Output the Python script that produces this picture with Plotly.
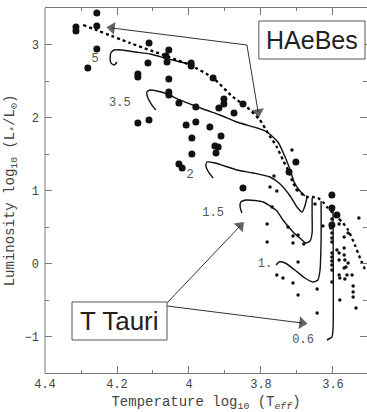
import plotly.graph_objects as go

# --- Herbig Ae/Be stars (large symbols): log Teff, log L/Lsun
haebe_logt = [4.314, 4.314, 4.256, 4.256, 4.256, 4.281, 4.111, 4.114, 4.142, 4.142,
              4.056, 4.064, 4.061, 4.056, 4.056, 4.056, 4.028, 4.142, 4.111, 4.008,
              4.028, 4.019, 3.994, 3.994, 3.933, 3.903, 3.903, 3.917, 3.981, 3.875,
              3.850, 3.981, 3.942, 3.992, 3.911, 3.928, 3.919, 3.925, 3.992, 3.850,
              3.703, 3.722, 3.603, 3.603, 3.589, 3.603]
haebe_logl = [3.240, 3.185, 3.432, 3.253, 2.938, 2.678, 3.021, 2.747, 2.596, 2.555,
              2.925, 2.842, 2.760, 2.527, 2.349, 2.308, 2.199, 1.925, 1.966, 1.897,
              1.363, 1.308, 2.747, 2.705, 2.541, 2.253, 2.185, 2.130, 2.144, 2.062,
              2.185, 1.938, 1.870, 1.719, 1.747, 1.610, 1.596, 1.514, 1.500, 1.034,
              1.390, 1.253, 0.938, 0.760, 0.664, 0.527]

# --- T Tauri stars (small symbols)
ttau_logt = [3.714, 3.764, 3.775, 3.756, 3.700, 3.769, 3.783, 3.783, 3.628, 3.583,
             3.528, 3.725, 3.697, 3.711, 3.711, 3.681, 3.606, 3.603, 3.603, 3.603,
             3.603, 3.603, 3.603, 3.603, 3.603, 3.603, 3.589, 3.583, 3.583, 3.569,
             3.569, 3.567, 3.564, 3.583, 3.561, 3.547, 3.544, 3.544, 3.544, 3.536,
             3.581, 3.756, 3.739, 3.711, 3.697, 3.644, 3.644, 3.697, 3.569, 3.558,
             3.581, 3.567, 3.569, 3.558, 3.650, 3.603]
ttau_logl = [1.555, 1.199, 1.048, 0.993, 1.007, 0.774, 0.541, 0.295, 0.514, 0.541,
             0.623, 0.500, 0.390, 0.377, 0.281, 0.267, 0.486, 0.418, 0.349, 0.295,
             0.144, 0.089, 0.034, -0.021, -0.089, -0.253, 0.185, 0.144, 0.048, 0.212,
             0.116, 0.048, -0.048, -0.158, -0.158, -0.158, -0.308, -0.390, -0.459, -0.610,
             -0.500, -0.158, -0.199, -0.267, -0.432, -0.349, -0.678, 0.021, 0.363, 0.418,
             -0.199, -0.212, -0.062, 0.007, 0.815, 0.610]

# --- Stellar birthline
birth_logt = [4.294, 4.164, 3.997, 3.933, 3.878, 3.839, 3.803, 3.781, 3.756, 3.739,
              3.722, 3.711, 3.697, 3.683, 3.669, 3.656, 3.642, 3.628, 3.617, 3.603,
              3.586, 3.572, 3.558, 3.539, 3.525, 3.508]
birth_logl = [3.267, 3.021, 2.719, 2.541, 2.281, 2.144, 1.966, 1.788, 1.596, 1.418,
              1.253, 1.103, 1.007, 0.938, 0.911, 0.911, 0.897, 0.842, 0.774, 0.705,
              0.623, 0.555, 0.459, 0.253, 0.075, -0.116]

# --- Pre-main-sequence tracks, keyed by mass label (Msun)
track_5_logt = [4.200, 4.208, 4.217, 4.219, 4.217, 4.208, 4.186, 4.150, 4.108, 4.067, 4.025, 3.997]
track_5_logl = [2.760, 2.719, 2.747, 2.815, 2.884, 2.925, 2.925, 2.897, 2.870, 2.815, 2.760, 2.733]

track_35_logt = [4.092, 4.103, 4.114, 4.117, 4.108, 4.089, 4.061, 4.025, 3.961, 3.914,
                 3.867, 3.811, 3.783, 3.753, 3.733, 3.719, 3.708, 3.694, 3.678]
track_35_logl = [2.103, 2.171, 2.267, 2.349, 2.377, 2.363, 2.322, 2.240, 2.116, 2.034,
                 1.938, 1.856, 1.801, 1.664, 1.459, 1.281, 1.116, 1.007, 0.925]

track_2_logt = [3.933, 3.944, 3.953, 3.950, 3.928, 3.867, 3.822, 3.775, 3.747, 3.719,
                3.700, 3.686, 3.678, 3.672]
track_2_logl = [1.171, 1.240, 1.336, 1.390, 1.377, 1.281, 1.240, 1.185, 1.089, 0.925,
                0.774, 0.705, 0.788, 0.911]

track_15_logt = [3.853, 3.858, 3.856, 3.839, 3.794, 3.756, 3.739, 3.711, 3.692, 3.675,
                 3.664, 3.658, 3.658, 3.658]
track_15_logl = [0.692, 0.774, 0.842, 0.870, 0.842, 0.719, 0.596, 0.432, 0.349, 0.281,
                 0.308, 0.418, 0.664, 0.897]

track_1_logt = [3.758, 3.750, 3.733, 3.706, 3.678, 3.656, 3.642, 3.636, 3.633, 3.633]
track_1_logl = [-0.021, 0.021, 0.007, -0.089, -0.199, -0.253, -0.226, -0.089, 0.322, 0.856]

track_06_logt = [3.617, 3.603, 3.600, 3.600]
track_06_logl = [-1.048, -1.007, -0.911, 0.733]

tracks = [
    (track_5_logt, track_5_logl),
    (track_35_logt, track_35_logl),
    (track_2_logt, track_2_logl),
    (track_15_logt, track_15_logl),
    (track_1_logt, track_1_logl),
    (track_06_logt, track_06_logl),
]

# Mass labels placed next to each track's zero-age end
mass_labels = ["5", "3.5", "2", "1.5", "1.", "0.6"]
mass_label_logt = [4.261, 4.192, 3.997, 3.933, 3.789, 3.683]
mass_label_logl = [2.801, 2.199, 1.212, 0.692, -0.007, -1.048]

# Axis ticks
x_tickvals = [4.4, 4.2, 4.0, 3.8, 3.6]
x_ticktext = ["4.4", "4.2", "4", "3.8", "3.6"]
y_tickvals = [-1, 0, 1, 2, 3]
y_ticktext = ["\u22121", "0", "1", "2", "3"]

MONO = "Liberation Mono, DejaVu Sans Mono, monospace"
INK = "#111111"
AXIS_GREY = "#7a7a7a"
TEXT_GREY = "#444444"

fig = go.Figure()

for tx, ty in tracks:
    fig.add_trace(go.Scatter(
        x=tx, y=ty, mode="lines",
        line=dict(color=INK, width=1.4, shape="spline", smoothing=0.6),
        hoverinfo="skip", showlegend=False))

fig.add_trace(go.Scatter(
    x=birth_logt, y=birth_logl, mode="lines",
    line=dict(color="#000000", width=2.3, dash="dot", shape="spline", smoothing=0.5),
    hoverinfo="skip", showlegend=False))

fig.add_trace(go.Scatter(
    x=haebe_logt, y=haebe_logl, mode="markers",
    marker=dict(color=INK, size=7), showlegend=False))

fig.add_trace(go.Scatter(
    x=ttau_logt, y=ttau_logl, mode="markers",
    marker=dict(color=INK, size=3.5), showlegend=False))

fig.add_trace(go.Scatter(
    x=mass_label_logt, y=mass_label_logl, mode="text",
    text=mass_labels, textposition="middle center",
    textfont=dict(family=MONO, size=12, color="#555555"),
    hoverinfo="skip", showlegend=False))

# Labelled boxes
box_line = dict(color="#555555", width=1)
fig.add_shape(type="rect", xref="x", yref="y", x0=3.806, x1=3.511, y0=3.322, y1=2.801,
              line=box_line, fillcolor="white", layer="above")
fig.add_annotation(x=3.6585, y=3.06, xref="x", yref="y", text="HAeBes", showarrow=False,
                   font=dict(family="Liberation Sans, Arial, sans-serif", size=25, color="#222222"))

fig.add_shape(type="rect", xref="x", yref="y", x0=4.325, x1=4.061, y0=-0.527, y1=-1.048,
              line=box_line, fillcolor="white", layer="above")
fig.add_annotation(x=4.193, y=-0.79, xref="x", yref="y", text="T Tauri", showarrow=False,
                   font=dict(family="Liberation Sans, Arial, sans-serif", size=26, color="#222222"))

# Pointer arrows: each runs from its start point to a filled arrowhead
pointers = [
    ((3.839, 2.993), (4.214, 3.226)),
    ((3.839, 2.993), (3.808, 2.075)),
    ((4.061, -0.541), (3.858, 0.514)),
    ((4.061, -0.582), (3.686, -0.815)),
]
for (x0, y0), (x1, y1) in pointers:
    fig.add_trace(go.Scatter(
        x=[x0, x1], y=[y0, y1], mode="lines+markers",
        line=dict(color="#333333", width=1),
        marker=dict(symbol="triangle-up", size=[0, 11], angleref="previous",
                    color="#222222", line=dict(width=0)),
        hoverinfo="skip", showlegend=False, cliponaxis=False))

axis_common = dict(
    showgrid=False, zeroline=False, linecolor=AXIS_GREY, linewidth=1,
    mirror="allticks", ticks="inside", ticklen=7, tickcolor=AXIS_GREY, tickwidth=1,
    tickfont=dict(family=MONO, size=12, color=TEXT_GREY), automargin=False,
)

fig.update_xaxes(
    range=[4.4, 3.5055], tickvals=x_tickvals, ticktext=x_ticktext, showline=True,
    minor=dict(dtick=0.1, tick0=4.4, ticks="inside", ticklen=3, tickcolor=AXIS_GREY),
    title=dict(text="Temperature log<sub>10</sub> (T<sub><i>eff</i></sub>)",
               font=dict(family=MONO, size=14, color=TEXT_GREY), standoff=7),
    **axis_common)
fig.update_yaxes(
    range=[-1.5, 3.5], tickvals=y_tickvals, ticktext=y_ticktext, showline=False,
    ticklabelstandoff=5,
    minor=dict(dtick=0.5, tick0=0, ticks="inside", ticklen=4, tickcolor=AXIS_GREY),
    title=dict(text="Luminosity log<sub>10</sub> (L<sub>*</sub>/L<sub>\u2299</sub>)",
               font=dict(family=MONO, size=14, color=TEXT_GREY), standoff=6),
    **axis_common)

# Left frame edge (the right edge runs off the canvas)
fig.add_shape(type="line", xref="paper", yref="paper", x0=0, x1=0, y0=0, y1=1,
              line=dict(color=AXIS_GREY, width=1))

fig.update_layout(
    width=367, height=412,
    margin=dict(l=45, r=0, t=8, b=39),
    paper_bgcolor="white", plot_bgcolor="white",
    showlegend=False,
)

fig.write_html("out.html")
